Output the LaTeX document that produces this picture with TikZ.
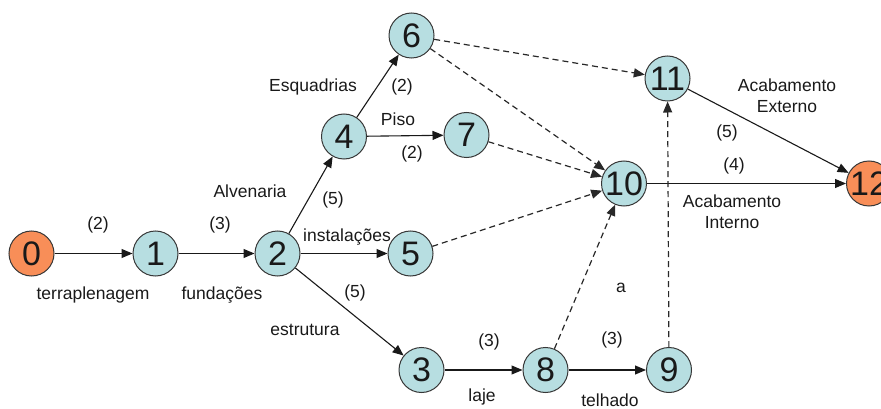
\documentclass[tikz,border=0pt]{standalone}
\usepackage{fontspec}
\setmainfont{Liberation Sans}
\usetikzlibrary{arrows.meta}
\definecolor{nodeblue}{RGB}{183,222,225}
\definecolor{nodeorange}{RGB}{248,142,88}
\definecolor{rim}{RGB}{55,55,55}
\definecolor{ink}{RGB}{25,25,25}
\definecolor{dashink}{RGB}{40,40,40}
\tikzset{
  ev/.style={circle, draw=rim, line width=1pt, fill=nodeblue, minimum size=45pt, inner sep=0pt,
    font=\fontsize{34}{34}\selectfont, text=ink},
  evo/.style={ev, fill=nodeorange},
  lab/.style={font=\fontsize{17.5}{21}\selectfont, text=ink, inner sep=0pt, align=center},
  act/.style={draw=ink, line width=1.1pt, -{Triangle[length=11pt,width=9pt]}},
  dum/.style={draw=dashink, line width=1.2pt, dash pattern=on 6pt off 4pt, -{Triangle[length=11pt,width=9pt]}}
}
\begin{document}
\begin{tikzpicture}[x=1pt,y=-1pt]
\useasboundingbox (0,0) rectangle (881,409);
\clip (0,0) rectangle (881,409);
\node[evo] (n0) at (31.5,253.5) {0};
\node[ev] (n1) at (155.5,253.5) {1};
\node[ev] (n2) at (277.5,253.5) {2};
\node[ev] (n3) at (421.5,370) {3};
\node[ev] (n4) at (344,136.5) {4};
\node[ev] (n5) at (410.5,253.5) {5};
\node[ev] (n6) at (411.5,35.5) {6};
\node[ev] (n7) at (466.5,135) {7};
\node[ev] (n8) at (545.5,370) {8};
\node[ev] (n9) at (669,370) {9};
\node[ev] (n10) at (624,183.5) {10};
\node[ev] (n11) at (667.5,78.5) {11};
\node[evo] (n12) at (869,183.5) {12};

\draw[act] (n0) -- (n1);
\draw[act] (n1) -- (n2);
\draw[act] (n2) -- (n4);
\draw[act] (n4) -- (n6);
\draw[act] (n4) -- (n7);
\draw[act] (n2) -- (n5);
\draw[act] (n2) -- (n3);
\draw[act] (n3) -- (n8);
\draw[act] (n8) -- (n9);
\draw[act] (n10) -- (n12);
\draw[act] (n11) -- (n12);
\draw[dum] (n6) -- (n11);
\draw[dum] (n6) -- (n10);
\draw[dum] (n7) -- (n10);
\draw[dum] (n5) -- (n10);
\draw[dum] (n8) -- (n10);
\draw[dum] (n9) -- (n11);

\node[lab] (l01a) at (98,225) {(2)};
\node[lab] (l01b) at (93,295) {terraplenagem};
\node[lab] (l12a) at (220,225) {(3)};
\node[lab] (l12b) at (222,295) {fundações};
\node[lab] (l24a) at (250,191) {Alvenaria};
\node[lab] (l24b) at (333,200) {(5)};
\node[lab] (l46a) at (313,87) {Esquadrias};
\node[lab] (l46b) at (402,87) {(2)};
\node[lab] (l47a) at (398,119) {Piso};
\node[lab] (l47b) at (412,154) {(2)};
\node[lab] (l25) at (347,237) {instalações};
\node[lab] (l23a) at (355,293) {(5)};
\node[lab] (l23b) at (305,330) {estrutura};
\node[lab] (l38a) at (489,342) {(3)};
\node[lab] (l38b) at (482,397) {laje};
\node[lab] (l89a) at (612,340) {(3)};
\node[lab] (l89b) at (610,400) {telhado};
\node[lab] (la) at (621,288) {a};
\node[lab] (l1112a) at (787,96) {Acabamento\\Externo};
\node[lab] (l1112b) at (727,133) {(5)};
\node[lab] (l1012a) at (734,166) {(4)};
\node[lab] (l1012b) at (732,212) {Acabamento\\Interno};
\end{tikzpicture}
\end{document}
